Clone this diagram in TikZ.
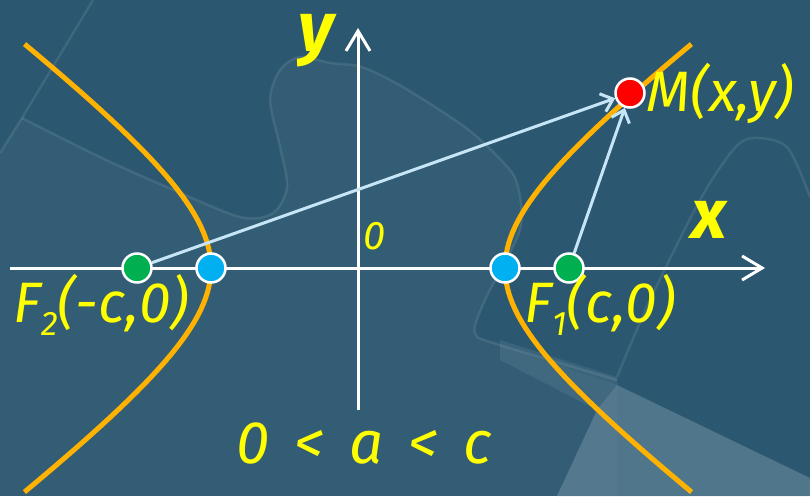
\documentclass[tikz,border=0pt]{standalone}
\usepackage{fontspec}
\setmainfont{Fira Sans}
\usetikzlibrary{arrows.meta,positioning}
\definecolor{BoardBlue}{HTML}{2B5770}
\definecolor{BoardLight}{HTML}{6A8CA0}
\definecolor{CurveGold}{HTML}{FFB300}
\definecolor{RayBlue}{HTML}{C6E6F7}
\definecolor{LabelYellow}{HTML}{FFFF00}
\definecolor{FocusGreen}{HTML}{00B050}
\definecolor{VertexBlue}{HTML}{00B0F0}
\definecolor{PointRed}{HTML}{FF0000}
\newcommand{\lowidx}[1]{\raisebox{-0.22em}{\fontsize{34}{34}\selectfont #1}}
\newcommand{\gap}{\hspace{0.42em}}

\begin{document}
\begin{tikzpicture}[
        x=1pt,y=1pt,
        dot/.style={circle,draw=white,line width=2.5pt,minimum size=29pt,inner sep=0pt},
        axis/.style={draw=white,line width=3pt,-{Straight Barb[length=20pt,width=24pt]}},
        ray/.style={draw=RayBlue,line width=3pt,-{Straight Barb[length=11pt,width=19pt]}},
        branch/.style={draw=CurveGold,line width=5pt},
        lbl/.style={text=LabelYellow,inner sep=0pt,font=\fontsize{57}{60}\selectfont\itshape},
        bigletter/.style={lbl,font=\fontsize{70}{76}\selectfont\bfseries\itshape},
        edge/.style={draw=white,opacity=0.09,line width=2.5pt}
      ]
        \useasboundingbox (-358,-228) rectangle (452,268);
        % background
        \fill[BoardBlue] (-358,-228) rectangle (452,268);
        \fill[white,opacity=0.04] plot[smooth] coordinates {(-336,150) (-258,111) (-191,81) (-118,51) (-85,55) (-71,81) (-78,121) (-88,168) (-78,198) (-58,211) (-27,205) (4,201) (45,181) (107,141) (143,108) (159,85) (162,38) (127,-32) (117,-65) (142,-77) (259,-117)} -- (259,-228) -- (-358,-228) -- (-358,115) -- cycle;
        \fill[BoardLight,opacity=0.6] (199,-228) -- (239,-142) -- (259,-117) -- (452,-210) -- (452,-228) -- cycle;
        \fill[BoardLight,opacity=0.25] (142,-72) -- (259,-109) -- (259,-117) -- (239,-142) -- (142,-92) -- cycle;
        \draw[edge] (-358,115) -- (-336,150) -- (-265,268);
        \draw[edge] plot[smooth] coordinates {(-336,150) (-258,111) (-191,81) (-118,51) (-85,55) (-71,81) (-78,121) (-88,168) (-78,198) (-58,211) (-27,205) (4,201) (45,181) (107,141) (143,108) (159,85) (162,38) (127,-32) (117,-65) (142,-77) (259,-112)};
        \draw[edge] plot[smooth] coordinates {(259,-109) (292,-32) (342,68) (375,118) (395,130) (429,121) (452,71)};
        % hyperbola
        \draw[branch] plot[domain=-1.46:1.46,samples=60,variable=\t] ({147*cosh(\t)},{110*sinh(\t)});
        \draw[branch] plot[domain=-1.46:1.46,samples=60,variable=\t] ({-147*cosh(\t)},{110*sinh(\t)});
        % axes
        \coordinate (xstart) at (-348,0);
        \coordinate (xend) at (407,0);
        \coordinate (ystart) at (0,-142);
        \coordinate (yend) at (0,240);
        \draw[axis] (xstart) -- (xend);
        \draw[axis] (ystart) -- (yend);
        % points
        \node[dot,fill=FocusGreen] (F2) at (-221,0) {};
        \node[dot,fill=VertexBlue] (A2) at (-147,0) {};
        \node[dot,fill=VertexBlue] (A1) at (147,0) {};
        \node[dot,fill=FocusGreen] (F1) at (211,0) {};
        \node[dot,fill=PointRed] (M) at (272,175) {};
        \draw[ray] (F2) -- (M);
        \draw[ray] (F1) -- (M);
        % labels
        \node[lbl,right=1pt of M] (Mlabel) {M(x,y)};
        \node[lbl] (F2label) at (-257,-37) {F\lowidx{2}(-c,0)};
        \node[lbl] (F1label) at (242,-37) {F\lowidx{1}(c,0)};
        \node[lbl,font=\fontsize{40}{44}\selectfont\itshape] (origin) at (17,32) {0};
        \node[bigletter] (xlabel) at (351,48) {x};
        \node[bigletter,anchor=north] (ylabel) at (-42,254) {y};
        \node[lbl,font=\fontsize{60}{64}\selectfont\itshape] (cond) at (6,-175) {0\gap<\gap a\gap<\gap c};
      \end{tikzpicture}
\end{document}
